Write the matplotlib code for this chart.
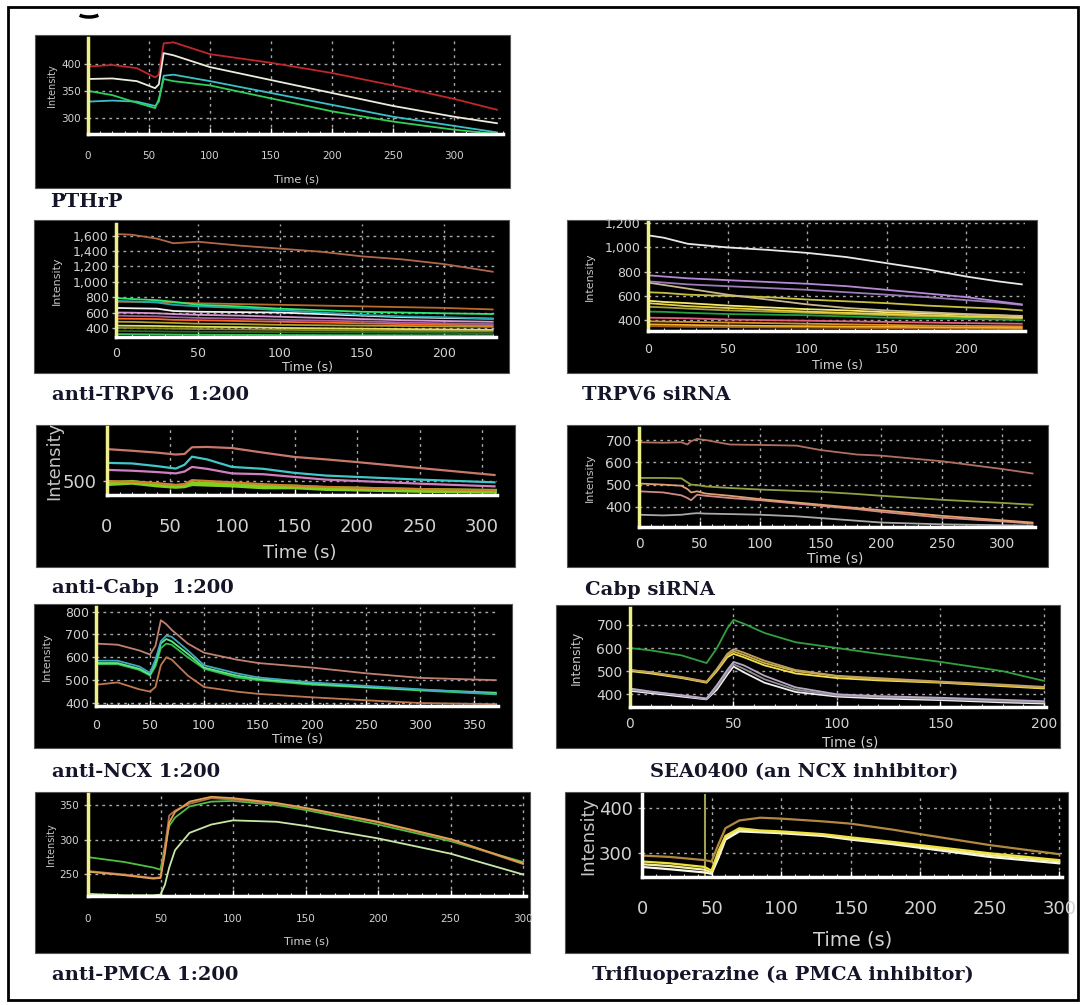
import matplotlib
matplotlib.use('Agg')
import matplotlib.pyplot as plt
from matplotlib.patches import Rectangle, Arc
from matplotlib.ticker import FuncFormatter, MultipleLocator

W, H = 1083, 1005

# PTHrP
PTHRP_T = [0, 20, 40, 55, 58, 62, 70, 100, 150, 200, 250, 300, 335]
PTHRP_RED = [395, 398, 392, 375, 380, 438, 440, 418, 402, 383, 360, 335, 315]
PTHRP_WHITE = [372, 373, 368, 355, 362, 420, 416, 394, 370, 346, 322, 302, 290]
PTHRP_CYAN = [330, 332, 330, 322, 330, 378, 380, 368, 346, 324, 302, 285, 273]
PTHRP_GREEN = [350, 342, 328, 318, 335, 372, 368, 360, 336, 312, 293, 278, 270]

# anti-TRPV6 1:200
ATRP_T = [0, 10, 25, 35, 50, 75, 100, 125, 150, 175, 200, 230]
ATRP_BROWN = [1620, 1610, 1560, 1500, 1520, 1470, 1430, 1390, 1330, 1290, 1230, 1130]
ATRP_GREEN = [790, 775, 760, 740, 700, 680, 650, 630, 610, 600, 590, 580]
ATRP_TEAL = [750, 745, 730, 700, 680, 660, 630, 600, 570, 550, 540, 520]
ATRP_RUST = [740, 738, 735, 730, 720, 710, 700, 690, 680, 670, 660, 640]
ATRP_WHITE = [660, 655, 650, 620, 610, 605, 600, 580, 560, 540, 530, 520]
ATRP_PINK = [600, 598, 590, 580, 570, 560, 545, 530, 515, 500, 490, 480]
ATRP_PURPLE = [560, 555, 550, 540, 530, 520, 505, 495, 485, 470, 460, 450]
ATRP_ORANGE = [520, 518, 515, 505, 500, 490, 480, 470, 460, 450, 440, 430]
ATRP_OLIVE = [480, 478, 470, 465, 455, 450, 440, 435, 430, 425, 420, 415]
ATRP_YELLOW = [430, 428, 425, 420, 415, 410, 400, 395, 390, 385, 380, 375]
ATRP_KHAKI = [400, 398, 395, 390, 385, 380, 375, 370, 365, 362, 360, 355]
ATRP_DKGREEN = [360, 358, 355, 352, 350, 348, 345, 342, 340, 338, 335, 330]
ATRP_LOW = [320, 318, 316, 314, 312, 310, 308, 306, 305, 304, 303, 302]

# TRPV6 siRNA
STRP_T = [0, 10, 25, 50, 75, 100, 125, 150, 175, 200, 220, 235]
STRP_WHITE = [1100, 1080, 1030, 1000, 980, 955, 920, 870, 820, 760, 720, 695]
STRP_PURPLE = [770, 760, 745, 730, 715, 700, 680, 650, 620, 590, 555, 530]
STRP_LAVENDER = [720, 710, 695, 680, 665, 650, 630, 610, 590, 565, 545, 525]
STRP_TAN = [710, 690, 660, 610, 570, 530, 500, 480, 465, 450, 440, 435]
STRP_OLIVE = [630, 625, 610, 600, 590, 570, 555, 540, 520, 505, 495, 480]
STRP_YELLOW = [560, 550, 540, 520, 505, 490, 480, 465, 455, 445, 440, 430]
STRP_GOLD = [540, 530, 515, 500, 485, 470, 460, 450, 440, 430, 425, 420]
STRP_KHAKI = [510, 505, 495, 480, 470, 460, 450, 440, 430, 425, 420, 415]
STRP_GREEN = [470, 468, 460, 450, 445, 440, 430, 420, 415, 410, 405, 400]
STRP_PINK = [420, 418, 415, 405, 400, 395, 390, 385, 380, 375, 372, 370]
STRP_ORANGE = [390, 388, 385, 380, 375, 370, 365, 360, 355, 352, 350, 348]
STRP_AMBER = [365, 363, 360, 355, 352, 350, 347, 345, 342, 340, 338, 336]
STRP_BROWN = [350, 348, 345, 342, 340, 338, 336, 334, 332, 330, 328, 326]

# anti-Cabp 1:200
ACAB_T = [0, 20, 40, 55, 62, 68, 80, 100, 125, 150, 175, 200, 250, 310]
ACAB_BROWN = [618, 612, 605, 598, 600, 625, 626, 622, 605, 589, 580, 570, 548, 522]
ACAB_CYAN = [567, 565, 555, 546, 560, 590, 580, 552, 545, 530, 520, 515, 505, 495]
ACAB_PINK = [541, 538, 533, 528, 535, 552, 545, 528, 525, 515, 505, 500, 490, 480]
ACAB_GREEN = [490, 495, 485, 480, 482, 490, 488, 485, 478, 478, 472, 470, 465, 462]
ACAB_ORANGE = [500, 497, 492, 485, 488, 503, 500, 495, 488, 482, 478, 475, 470, 465]

# Cabp siRNA
SCAB_T = [0, 20, 35, 40, 43, 48, 55, 75, 100, 130, 150, 180, 200, 250, 300, 325]
SCAB_BROWN = [690, 688, 690, 680, 695, 705, 700, 680, 678, 675, 655, 635, 630, 605, 570, 550]
SCAB_OLIVE = [530, 530, 528, 510, 500, 498, 492, 485, 478, 472, 468, 458, 450, 432, 418, 410]
SCAB_PEACH = [505, 500, 495, 480, 465, 470, 460, 450, 435, 420, 410, 395, 385, 360, 340, 330]
SCAB_PINK = [470, 465, 452, 440, 430, 455, 450, 440, 430, 415, 405, 390, 378, 352, 335, 325]
SCAB_GRAY = [365, 362, 365, 368, 370, 372, 370, 368, 365, 358, 350, 338, 330, 322, 318, 316]

# anti-NCX 1:200
ANCX_T = [0, 20, 40, 50, 55, 60, 65, 70, 85, 100, 130, 150, 200, 250, 300, 370]
ANCX_BROWN_HI = [660, 655, 630, 612, 650, 762, 745, 720, 660, 620, 590, 575, 555, 530, 510, 500]
ANCX_CYAN = [585, 585, 560, 532, 590, 670, 695, 690, 630, 565, 530, 512, 490, 475, 460, 440]
ANCX_LIME = [575, 575, 550, 525, 575, 660, 680, 670, 615, 555, 520, 505, 485, 470, 458, 445]
ANCX_GREEN = [570, 570, 545, 520, 560, 640, 660, 655, 600, 550, 512, 500, 480, 468, 455, 438]
ANCX_BROWN_LO = [480, 490, 460, 450, 470, 565, 600, 590, 520, 470, 450, 440, 425, 412, 400, 395]

# SEA0400
SEA_T = [0, 10, 25, 37, 42, 47, 50, 55, 65, 80, 100, 120, 150, 180, 200]
SEA_GREEN = [600, 590, 568, 535, 600, 685, 722, 705, 665, 625, 600, 575, 540, 500, 458]
SEA_TAN = [505, 495, 475, 455, 510, 575, 595, 580, 545, 505, 480, 470, 455, 442, 432]
SEA_GOLD = [505, 495, 472, 452, 505, 568, 585, 570, 535, 500, 478, 465, 452, 438, 428]
SEA_YELLOW = [500, 490, 470, 450, 500, 560, 575, 560, 525, 490, 470, 460, 450, 435, 425]
SEA_LAVENDER = [425, 412, 396, 382, 440, 505, 540, 525, 480, 430, 400, 392, 385, 376, 370]
SEA_GRAY = [420, 410, 395, 380, 430, 495, 530, 510, 465, 420, 395, 388, 380, 370, 365]
SEA_WHITE = [415, 405, 390, 378, 420, 485, 520, 495, 450, 410, 390, 382, 375, 365, 360]

# anti-PMCA 1:200
APM_T = [0, 25, 45, 50, 53, 56, 60, 70, 85, 100, 130, 150, 200, 250, 300]
APM_GREEN = [275, 268, 260, 257, 290, 320, 332, 348, 355, 356, 350, 343, 322, 298, 268]
APM_BROWN = [255, 250, 245, 246, 290, 335, 342, 352, 360, 358, 352, 345, 325, 300, 265]
APM_ORANGE = [254, 249, 244, 245, 280, 325, 340, 355, 362, 360, 353, 346, 326, 301, 266]
APM_PALE = [222, 220, 220, 221, 235, 260, 285, 310, 322, 328, 326, 320, 302, 280, 250]

# Trifluoperazine
TFP_T = [0, 20, 45, 50, 55, 60, 70, 85, 100, 130, 150, 180, 200, 250, 300]
TFP_BROWN = [295, 292, 285, 282, 320, 355, 372, 378, 376, 370, 365, 352, 342, 318, 298]
TFP_YELLOW = [282, 278, 270, 262, 305, 338, 355, 350, 348, 342, 335, 325, 318, 300, 285]
TFP_PALE = [276, 272, 264, 258, 298, 335, 352, 348, 346, 340, 332, 322, 315, 296, 282]
TFP_WHITE = [270, 265, 258, 255, 290, 330, 348, 346, 344, 338, 330, 320, 312, 292, 278]
TFP_MARK = 45

LABEL_COLOR = '#15152a'
TICK_COLOR = '#d2d2d2'


def px_rect(x0, y0, x1, y1):
    return [x0 / W, 1 - y1 / H, (x1 - x0) / W, (y1 - y0) / H]


def backdrop(fig, x0, y0, x1, y1):
    fig.add_artist(Rectangle((x0 / W, 1 - y1 / H), (x1 - x0) / W, (y1 - y0) / H,
                             transform=fig.transFigure, facecolor='black',
                             edgecolor='#555555', lw=0.8, zorder=-5))


def caption(fig, x, y, s):
    fig.text(x / W, 1 - y / H, s, ha='left', va='center', color=LABEL_COLOR,
             family='DejaVu Serif', weight='bold', fontsize=14)


def trace_axes(fig, box, xlim, ylim, xstep, yticks, fs, xgap, ygap,
               xlab_x, xlab_top, ylab_right, lab_fs, ylab_fs,
               left_color='#eeee8a', comma=False, minor=10):
    x0, y0, x1, y1 = box
    ax = fig.add_axes(px_rect(*box), facecolor='black')
    ax.set_xlim(*xlim)
    ax.set_ylim(*ylim)
    ax.xaxis.set_major_locator(MultipleLocator(xstep))
    ax.xaxis.set_minor_locator(MultipleLocator(minor))
    ax.set_yticks(yticks)
    if comma:
        ax.yaxis.set_major_formatter(FuncFormatter(lambda v, p: '{:,}'.format(int(v))))
    for side in ('top', 'right'):
        ax.spines[side].set_visible(False)
    ax.spines['bottom'].set_color('white')
    ax.spines['bottom'].set_linewidth(2.5)
    ax.spines['left'].set_color(left_color)
    ax.spines['left'].set_linewidth(2.5)
    ax.tick_params(axis='x', which='major', direction='in', length=4, width=1,
                   color='white', labelcolor=TICK_COLOR, labelsize=fs, pad=xgap * 0.72)
    ax.tick_params(axis='x', which='minor', direction='in', length=2.5, width=0.8,
                   color='#dddddd')
    ax.tick_params(axis='y', direction='out', length=3, width=1, color='#bbbbbb',
                   labelcolor=TICK_COLOR, labelsize=fs, pad=max(ygap - 3, 0) * 0.72)
    ax.grid(True, which='major', color='#a8a8a8', linestyle=(0, (2, 3)), linewidth=1)
    ax.set_axisbelow(True)
    ax.set_xlabel('Time (s)', color=TICK_COLOR, fontsize=lab_fs)
    ax.xaxis.set_label_coords((xlab_x - x0) / (x1 - x0), -(xlab_top - y1) / (y1 - y0))
    ax.set_ylabel('Intensity', color='#c4c4c4', fontsize=ylab_fs)
    ax.yaxis.set_label_coords((ylab_right - x0) / (x1 - x0), 0.5)
    return ax


def draw(ax, t, series, lw=1.3):
    for values, color in series:
        ax.plot(t, values, color=color, lw=lw, solid_joinstyle='round')


def main():
    fig = plt.figure(figsize=(W / 100, H / 100), dpi=100)
    fig.patch.set_facecolor('white')

    # outer frame and the clipped mark above the first panel
    fig.add_artist(Rectangle((8 / W, 1 - 1000 / H), 1070 / W, 993 / H,
                             transform=fig.transFigure, facecolor='none',
                             edgecolor='black', lw=2, zorder=-6))
    fig.add_artist(Arc((89 / W, 1 - 12 / H), 24 / W, 10 / H, theta1=200, theta2=340,
                       transform=fig.transFigure, color='black', lw=2.5))

    # black panels behind each trace plot
    for r in [(35, 35, 510, 188), (34, 220, 509, 373), (567, 220, 1037, 373),
              (36, 425, 515, 567), (567, 425, 1048, 567), (34, 604, 512, 748),
              (556, 605, 1060, 748), (35, 792, 530, 953), (565, 792, 1068, 953)]:
        backdrop(fig, *r)

    ax = trace_axes(fig, (88, 38, 503, 134), (0, 340), (270, 448), 50, [300, 350, 400],
                    7.5, 17, 6, 297, 175, 57, 8, 7)
    draw(ax, PTHRP_T, [(PTHRP_RED, '#c0262a'), (PTHRP_WHITE, '#ececdc'),
                       (PTHRP_CYAN, '#3cc0c8'), (PTHRP_GREEN, '#2ed05a')])

    ax = trace_axes(fig, (116, 224, 496, 337), (0, 232), (282, 1750), 50,
                    list(range(400, 1601, 200)), 9, 10, 6, 307, 361, 62, 9, 8, comma=True)
    draw(ax, ATRP_T, [(ATRP_LOW, '#40c060'), (ATRP_DKGREEN, '#2e6a22'),
                      (ATRP_KHAKI, '#86862a'), (ATRP_YELLOW, '#e0e060'),
                      (ATRP_OLIVE, '#b0a030'), (ATRP_ORANGE, '#ff6420'),
                      (ATRP_PURPLE, '#a060a0'), (ATRP_PINK, '#d898d0'),
                      (ATRP_WHITE, '#f2f2f2'), (ATRP_RUST, '#b86c2c'),
                      (ATRP_TEAL, '#20aab0'), (ATRP_GREEN, '#2ee870'),
                      (ATRP_BROWN, '#b0684a')])

    ax = trace_axes(fig, (648, 222, 1025, 331), (0, 237), (310, 1210), 50,
                    list(range(400, 1201, 200)), 9, 12, 6, 837, 359, 595, 9, 8, comma=True)
    draw(ax, STRP_T, [(STRP_BROWN, '#a06020'), (STRP_AMBER, '#f0b030'),
                      (STRP_ORANGE, '#e09020'), (STRP_PINK, '#e06080'),
                      (STRP_GREEN, '#20a040'), (STRP_KHAKI, '#a0a040'),
                      (STRP_GOLD, '#e8d040'), (STRP_YELLOW, '#f4e868'),
                      (STRP_OLIVE, '#c8c040'), (STRP_TAN, '#c8b890'),
                      (STRP_LAVENDER, '#9a7ab8'), (STRP_PURPLE, '#b488d4'),
                      (STRP_WHITE, '#e8e8e8')])

    ax = trace_axes(fig, (107, 427, 497, 495), (0, 312), (448, 700), 50, [500],
                    13, 23, 9, 300, 544, 63, 13, 13)
    draw(ax, ACAB_T, [(ACAB_GREEN, '#80d020')], lw=3.5)
    draw(ax, ACAB_T, [(ACAB_ORANGE, '#d08030'), (ACAB_PINK, '#d080c0'),
                      (ACAB_CYAN, '#40c8c8'), (ACAB_BROWN, '#c87868')], lw=1.6)

    ax = trace_axes(fig, (639, 428, 1035, 527), (0, 327), (310, 754), 50,
                    [400, 500, 600, 700], 10, 10, 6, 835, 551, 595, 10, 8)
    draw(ax, SCAB_T, [(SCAB_GRAY, '#a8a8a8'), (SCAB_PINK, '#d08888'),
                      (SCAB_PEACH, '#e0a070'), (SCAB_OLIVE, '#90a040'),
                      (SCAB_BROWN, '#b07060')])

    ax = trace_axes(fig, (96, 607, 498, 706), (0, 372), (387, 820), 50,
                    [400, 500, 600, 700, 800], 9, 13, 6, 297, 733, 52, 9, 8)
    draw(ax, ANCX_T, [(ANCX_BROWN_LO, '#c07850'), (ANCX_GREEN, '#30c050'),
                      (ANCX_LIME, '#60e880'), (ANCX_CYAN, '#40a8c0'),
                      (ANCX_BROWN_HI, '#c08070')])

    ax = trace_axes(fig, (630, 608, 1046, 707), (0, 201), (345, 773), 50,
                    [400, 500, 600, 700], 10, 10, 6, 850, 735, 583, 10, 9)
    draw(ax, SEA_T, [(SEA_WHITE, '#f0f0f0'), (SEA_GRAY, '#909090'),
                     (SEA_LAVENDER, '#b8a8c8'), (SEA_YELLOW, '#f0e050'),
                     (SEA_GOLD, '#d0b040'), (SEA_TAN, '#c0a060'),
                     (SEA_GREEN, '#30a040')])

    ax = trace_axes(fig, (88, 794, 526, 896), (0, 302), (219, 366), 50, [250, 300, 350],
                    7.5, 18, 8, 307, 936, 56, 8, 7)
    draw(ax, APM_T, [(APM_PALE, '#c8e8a8'), (APM_GREEN, '#50c040'),
                     (APM_BROWN, '#b07050'), (APM_ORANGE, '#e0a050')])

    ax = trace_axes(fig, (642, 794, 1062, 877), (0, 302), (248, 430), 50, [300, 400],
                    13, 23, 8, 853, 930, 597, 14, 13, left_color='white')
    ax.axvline(TFP_MARK, color='#a0a050', lw=1.5, zorder=1)
    draw(ax, TFP_T, [(TFP_WHITE, '#f8f8f0'), (TFP_PALE, '#f0f0a0'),
                     (TFP_YELLOW, '#f0e040'), (TFP_BROWN, '#b08840')], lw=1.6)

    caption(fig, 50, 202, 'PTHrP')
    caption(fig, 52, 395, 'anti-TRPV6  1:200')
    caption(fig, 582, 395, 'TRPV6 siRNA')
    caption(fig, 52, 588, 'anti-Cabp  1:200')
    caption(fig, 585, 590, 'Cabp siRNA')
    caption(fig, 52, 772, 'anti-NCX 1:200')
    caption(fig, 650, 772, 'SEA0400 (an NCX inhibitor)')
    caption(fig, 52, 975, 'anti-PMCA 1:200')
    caption(fig, 592, 975, 'Trifluoperazine (a PMCA inhibitor)')

    fig.savefig('out.png', dpi=100)


if __name__ == '__main__':
    main()
